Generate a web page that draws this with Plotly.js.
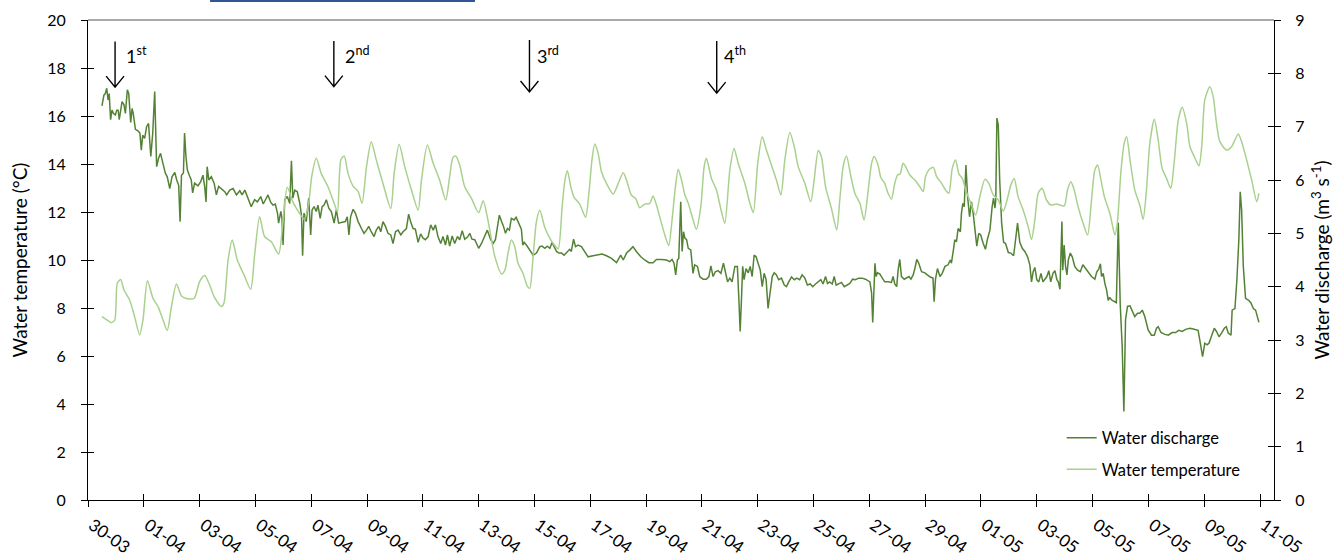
<!DOCTYPE html>
<html>
<head>
<meta charset="utf-8">
<script src="https://cdn.plot.ly/plotly-3.0.1.min.js"></script>
<style>html,body{margin:0;padding:0;background:#fff;}#chart{width:1338px;height:558px;}</style>
</head>
<body>
<div id="chart"></div>
<script>
// ---- data (x = days since 30-03 00:00) ----
const tickDays = [0,2,4,6,8,10,12,14,16,18,20,22,24,26,28,30,32,34,36,38,40,42];
const tickLabels = ['30-03','01-04','03-04','05-04','07-04','09-04','11-04','13-04','15-04','17-04','19-04','21-04','23-04','25-04','27-04','29-04','01-05','03-05','05-05','07-05','09-05','11-05'];

const tempDay = [0.50,0.72,0.84,0.96,1.05,1.17,1.29,1.49,1.67,1.85,1.97,2.13,2.33,2.51,2.69,2.84,2.99,3.17,3.35,3.52,3.80,4.00,4.18,4.36,4.52,4.78,4.87,5.02,5.17,5.35,5.59,5.83,5.97,6.15,6.33,6.57,6.83,6.99,7.14,7.35,7.55,7.75,7.90,8.02,8.18,8.36,8.60,8.84,8.94,9.06,9.18,9.32,9.50,9.68,9.82,9.98,10.15,10.33,10.57,10.85,10.97,11.15,11.35,11.59,11.83,11.95,12.16,12.37,12.60,12.82,12.96,13.08,13.18,13.32,13.50,13.74,14.00,14.16,14.33,14.58,14.82,14.94,15.05,15.17,15.29,15.41,15.59,15.75,15.83,15.95,16.07,16.19,16.37,16.55,16.73,16.85,16.99,17.09,17.18,17.30,17.42,17.62,17.83,17.95,18.06,18.16,18.28,18.40,18.58,18.82,19.00,19.18,19.30,19.47,19.62,19.77,19.95,20.13,20.25,20.37,20.55,20.69,20.81,20.93,21.05,21.15,21.27,21.39,21.51,21.65,21.80,21.96,22.08,22.16,22.34,22.52,22.70,22.82,23.00,23.15,23.30,23.54,23.72,23.84,24.00,24.16,24.31,24.49,24.67,24.83,24.97,25.15,25.31,25.45,25.69,25.90,26.02,26.17,26.28,26.43,26.64,26.83,26.94,27.06,27.18,27.34,27.48,27.66,27.81,27.96,28.08,28.17,28.31,28.41,28.55,28.67,28.79,28.91,29.01,29.10,29.21,29.33,29.45,29.63,29.81,29.93,30.01,30.13,30.29,30.41,30.59,30.77,30.85,30.97,31.09,31.21,31.33,31.45,31.64,31.81,31.96,32.14,32.28,32.44,32.62,32.80,32.95,33.07,33.19,33.33,33.51,33.69,33.81,33.93,34.05,34.19,34.35,34.50,34.71,34.98,35.10,35.22,35.34,35.48,35.66,35.82,35.96,36.08,36.18,36.30,36.42,36.62,36.80,36.89,37.01,37.13,37.22,37.34,37.51,37.69,37.81,37.93,38.05,38.21,38.35,38.49,38.65,38.80,38.92,39.07,39.21,39.37,39.49,39.67,39.81,39.91,40.02,40.20,40.32,40.44,40.56,40.80,40.98,41.10,41.22,41.34,41.52,41.70,41.88,41.96];
const tempC = [7.64,7.47,7.39,7.50,9.03,9.19,8.75,8.33,7.64,6.88,7.50,9.14,8.40,8.06,7.50,7.06,8.06,9.00,8.50,8.40,8.40,9.10,9.35,8.96,8.47,8.06,8.20,10.00,10.83,10.00,9.38,8.78,10.20,11.80,10.97,10.76,10.25,11.67,13.03,12.40,12.00,11.70,12.30,13.50,14.24,13.60,13.05,12.30,12.01,14.17,14.33,13.60,13.08,12.85,12.36,13.89,14.93,14.17,13.19,12.15,13.60,14.82,13.89,12.92,12.08,13.33,14.79,14.03,13.33,12.50,13.47,14.28,14.33,13.96,13.05,12.57,11.97,12.47,11.67,10.14,9.42,9.58,10.28,10.83,10.56,9.86,9.44,8.89,8.82,10.14,11.60,12.07,11.35,10.90,10.60,10.47,12.22,13.33,13.72,13.05,12.61,12.33,11.78,12.78,14.17,14.83,14.44,13.68,13.19,12.75,13.19,13.64,13.33,12.71,12.57,12.18,12.33,12.36,12.67,12.29,11.53,10.97,10.60,11.67,13.05,13.78,13.33,12.71,12.36,11.81,11.28,12.22,13.89,14.24,13.40,12.92,12.01,11.53,13.75,14.65,14.03,13.19,12.36,11.97,14.03,15.14,14.58,13.96,13.33,12.71,14.17,15.31,14.72,13.89,13.19,12.43,13.33,14.56,14.31,13.05,12.15,11.25,12.50,13.89,14.33,13.47,12.78,12.36,11.67,12.92,14.03,14.31,13.96,13.44,13.19,12.78,12.53,13.19,13.54,13.58,14.03,13.82,13.54,13.33,13.05,12.85,13.47,13.75,13.86,13.47,13.19,12.85,12.78,13.82,14.17,13.58,13.40,12.92,12.36,11.88,12.64,13.36,13.19,12.71,12.50,12.04,12.57,13.13,13.40,12.64,12.08,11.39,10.85,11.67,12.78,12.99,12.50,12.29,12.33,12.25,12.92,13.26,12.92,12.22,11.53,11.04,12.50,13.75,13.96,13.33,12.64,11.94,11.04,11.60,13.61,14.86,15.14,14.17,12.92,12.29,11.69,12.92,14.86,15.86,15.00,13.82,13.40,12.99,14.03,15.83,16.36,15.69,14.72,14.24,13.92,14.72,16.67,17.22,16.81,15.69,14.93,14.58,14.72,15.00,15.25,14.93,14.17,13.33,12.43,12.78];

const flowDay = [0.50,0.57,0.62,0.67,0.72,0.76,0.81,0.86,0.91,0.98,1.03,1.08,1.12,1.17,1.22,1.29,1.34,1.41,1.46,1.53,1.58,1.62,1.70,1.79,1.86,1.91,1.96,2.03,2.10,2.17,2.25,2.32,2.39,2.43,2.46,2.53,2.60,2.70,2.77,2.84,2.93,3.01,3.11,3.18,3.25,3.30,3.35,3.42,3.46,3.51,3.56,3.63,3.70,3.75,3.82,3.94,4.04,4.12,4.18,4.23,4.27,4.33,4.42,4.52,4.60,4.68,4.78,4.90,4.97,5.08,5.20,5.32,5.44,5.52,5.62,5.73,5.85,5.97,6.07,6.19,6.28,6.36,6.45,6.55,6.63,6.71,6.79,6.83,6.91,6.95,6.99,7.05,7.14,7.23,7.29,7.34,7.41,7.50,7.59,7.65,7.69,7.74,7.82,7.91,7.98,8.03,8.10,8.18,8.24,8.32,8.39,8.46,8.54,8.63,8.72,8.82,8.90,8.98,9.10,9.22,9.29,9.35,9.41,9.50,9.58,9.68,9.80,9.89,9.98,10.06,10.15,10.25,10.33,10.42,10.49,10.57,10.66,10.75,10.85,10.93,11.02,11.11,11.21,11.29,11.41,11.49,11.56,11.65,11.73,11.83,11.92,12.01,12.09,12.19,12.28,12.37,12.45,12.54,12.64,12.72,12.81,12.88,12.96,13.05,13.14,13.24,13.32,13.41,13.50,13.60,13.68,13.76,13.86,13.93,14.00,14.10,14.22,14.31,14.43,14.52,14.60,14.67,14.74,14.82,14.89,14.96,15.03,15.10,15.17,15.27,15.34,15.41,15.48,15.53,15.58,15.63,15.71,15.83,15.95,16.07,16.19,16.27,16.37,16.46,16.55,16.63,16.70,16.79,16.87,16.97,17.06,17.18,17.26,17.32,17.40,17.47,17.56,17.68,17.80,17.92,18.10,18.28,18.42,18.58,18.76,18.94,19.09,19.18,19.30,19.42,19.53,19.65,19.81,19.95,20.10,20.25,20.37,20.55,20.73,20.85,20.93,21.00,21.06,21.12,21.17,21.24,21.29,21.34,21.39,21.45,21.51,21.60,21.68,21.74,21.84,21.92,22.04,22.16,22.25,22.32,22.40,22.48,22.58,22.68,22.77,22.84,22.92,23.00,23.08,23.18,23.27,23.32,23.37,23.42,23.46,23.51,23.58,23.66,23.73,23.80,23.87,23.94,24.01,24.09,24.16,24.23,24.30,24.37,24.44,24.52,24.59,24.67,24.75,24.85,24.95,25.03,25.11,25.21,25.31,25.40,25.50,25.59,25.69,25.78,25.88,25.97,26.07,26.16,26.26,26.34,26.43,26.50,26.58,26.67,26.74,26.81,26.91,27.00,27.10,27.19,27.30,27.40,27.50,27.62,27.74,27.86,28.02,28.08,28.12,28.16,28.20,28.24,28.29,28.37,28.46,28.55,28.67,28.79,28.85,28.91,28.98,29.03,29.09,29.15,29.25,29.34,29.42,29.49,29.57,29.63,29.70,29.77,29.87,29.99,30.08,30.18,30.28,30.32,30.37,30.44,30.53,30.61,30.71,30.82,30.90,30.94,31.02,31.06,31.12,31.18,31.26,31.30,31.35,31.40,31.46,31.52,31.59,31.66,31.72,31.78,31.85,31.92,31.99,32.08,32.16,32.23,32.32,32.40,32.45,32.50,32.53,32.57,32.62,32.67,32.74,32.81,32.88,32.98,33.07,33.17,33.24,33.31,33.39,33.48,33.57,33.67,33.75,33.81,33.87,33.93,34.00,34.07,34.15,34.22,34.29,34.36,34.43,34.50,34.58,34.65,34.72,34.77,34.83,34.86,34.90,34.93,34.98,35.03,35.08,35.13,35.20,35.27,35.36,35.46,35.56,35.65,35.75,35.84,35.96,36.08,36.15,36.22,36.28,36.32,36.38,36.44,36.50,36.56,36.61,36.68,36.77,36.85,36.92,36.99,37.06,37.12,37.18,37.25,37.34,37.42,37.51,37.61,37.69,37.78,37.87,37.99,38.11,38.21,38.29,38.35,38.45,38.57,38.71,38.85,38.97,39.09,39.21,39.33,39.49,39.64,39.78,39.86,39.94,40.02,40.10,40.17,40.26,40.36,40.44,40.53,40.62,40.72,40.79,40.86,40.96,41.00,41.10,41.17,41.24,41.29,41.34,41.40,41.48,41.58,41.67,41.76,41.84,41.91,41.96];
const flowQ = [7.39,7.59,7.62,7.72,7.50,7.62,7.13,7.31,7.25,7.22,7.31,7.31,7.13,7.34,7.47,7.41,7.25,7.69,7.62,7.08,7.34,7.25,6.95,6.92,6.88,6.56,6.84,6.78,7.00,7.06,6.44,6.88,7.66,6.84,6.25,6.41,6.50,6.28,6.13,6.06,5.84,6.06,6.14,6.00,5.90,5.22,6.09,6.13,6.88,6.44,6.19,6.09,6.00,5.76,5.94,5.89,5.97,6.09,5.88,5.59,6.25,6.00,6.06,5.94,5.72,5.88,5.84,5.78,5.72,5.81,5.84,5.72,5.80,5.72,5.81,5.66,5.50,5.63,5.59,5.69,5.55,5.63,5.72,5.58,5.53,5.55,5.38,5.19,5.41,5.28,4.78,5.63,5.69,5.56,6.36,5.66,5.81,5.78,5.56,5.34,4.58,5.38,5.22,5.66,4.97,5.44,5.50,5.41,5.53,5.28,5.50,5.53,5.63,5.47,5.41,5.19,5.44,5.19,5.20,5.22,5.31,4.97,5.31,5.45,5.38,5.22,5.09,5.00,5.06,5.13,5.03,4.94,5.06,5.13,5.03,5.22,5.13,5.00,4.97,4.81,5.03,5.06,4.97,5.03,5.09,5.36,5.22,5.09,5.08,4.83,4.99,4.91,4.88,4.94,5.16,5.06,5.16,4.94,4.81,4.94,4.78,4.97,4.76,4.95,4.81,4.94,4.88,5.05,4.89,4.93,5.00,4.89,4.88,4.78,4.72,4.81,4.94,5.06,4.88,4.81,4.88,5.13,5.34,5.22,5.13,5.00,5.09,5.06,5.28,5.25,5.30,5.22,5.13,5.08,4.78,4.83,4.78,4.68,4.59,4.63,4.75,4.76,4.72,4.76,4.72,4.83,4.75,4.66,4.63,4.63,4.59,4.66,4.70,4.66,4.89,4.75,4.78,4.75,4.66,4.56,4.58,4.59,4.61,4.58,4.53,4.45,4.59,4.50,4.63,4.69,4.75,4.66,4.56,4.50,4.45,4.45,4.51,4.51,4.50,4.47,4.51,4.44,4.22,4.50,4.53,5.59,4.66,5.03,4.91,4.88,4.72,4.69,4.25,4.41,4.38,4.19,4.14,4.14,4.19,4.39,4.19,4.28,4.30,4.25,4.44,4.28,4.09,4.16,4.09,4.38,4.38,3.81,3.16,3.81,4.38,4.13,4.34,4.26,4.38,4.19,4.59,4.56,4.44,4.31,4.00,4.25,4.13,3.59,3.88,4.19,4.26,4.22,4.13,4.16,4.03,4.00,4.09,4.18,4.13,4.16,4.13,4.22,4.16,4.03,4.05,4.00,4.05,4.09,4.13,4.05,4.19,4.06,4.09,4.05,4.19,4.03,4.05,4.08,4.00,4.03,4.06,4.14,4.13,4.16,4.16,4.14,4.09,3.88,3.33,3.88,4.44,4.19,4.26,4.24,4.16,4.09,4.09,4.08,4.19,4.05,4.00,4.31,4.51,4.19,4.14,4.16,4.19,4.14,4.22,4.34,4.51,4.44,4.28,4.26,4.22,4.18,4.16,3.72,4.14,4.34,4.19,4.25,4.38,4.41,4.50,4.44,4.72,4.88,4.84,5.09,5.03,5.38,5.56,5.50,6.28,5.69,5.31,5.59,5.38,5.06,4.76,5.00,4.97,4.81,4.70,4.89,5.06,5.50,5.66,5.47,5.63,7.16,7.03,6.00,5.19,4.83,4.81,4.64,4.63,4.58,4.94,5.19,4.83,4.72,4.66,4.56,4.41,4.09,4.28,4.36,4.13,4.09,4.25,4.09,4.14,4.19,4.30,4.09,4.25,4.30,4.13,4.09,3.95,4.63,5.22,4.31,4.78,4.38,4.22,4.50,4.63,4.56,4.38,4.31,4.28,4.41,4.34,4.26,4.19,4.14,4.28,4.33,4.43,4.19,4.25,4.06,3.94,3.74,3.80,3.75,3.72,3.70,5.20,3.66,2.88,1.66,3.38,3.63,3.64,3.53,3.44,3.50,3.50,3.56,3.44,3.19,3.09,3.09,3.22,3.25,3.14,3.11,3.09,3.14,3.14,3.18,3.16,3.20,3.22,3.20,3.18,2.94,2.69,2.94,2.91,2.94,3.08,3.22,3.16,3.06,3.13,3.22,3.25,3.13,3.09,3.56,3.59,4.13,4.88,5.78,5.44,4.38,3.78,3.75,3.70,3.59,3.56,3.44,3.33];

// sampling campaigns (arrows)
const campaignLabels = ['1<sup>st</sup>','2<sup>nd</sup>','3<sup>rd</sup>','4<sup>th</sup>'];
const campaignDay = [0.97, 8.81, 15.82, 22.53];
const campaignTop = [19.10, 19.12, 19.17, 19.12];
const campaignTip = [17.20, 17.22, 17.00, 16.95];
const campaignTextDay = [1.28, 9.12, 16.02, 22.72];

const DARK = '#548235', LIGHT = '#a9d18e';
const FONT = 'Lato, "Open Sans", sans-serif';

const traces = [
  {type:'scatter', mode:'lines', name:'Water discharge', x:flowDay, y:flowQ, xaxis:'x', yaxis:'y',
   line:{color:DARK, width:1.5}, legendgroup:'a', hoverinfo:'skip'},
  {type:'scatter', mode:'lines', name:'Water temperature', x:tempDay, y:tempC, xaxis:'x', yaxis:'y2',
   line:{color:LIGHT, width:1.5, shape:'spline', smoothing:0.7}, legendgroup:'b', hoverinfo:'skip'},
  // invisible traces to host the inner half of the crossing tick marks
  {type:'scatter', mode:'lines', x:[null], y:[null], xaxis:'x2', yaxis:'y3', showlegend:false, hoverinfo:'skip'},
  {type:'scatter', mode:'lines', x:[null], y:[null], xaxis:'x', yaxis:'y4', showlegend:false, hoverinfo:'skip'}
];

const armX = 0.32, armY = 0.46;
const shapes = [];
campaignDay.forEach((d, i) => {
  shapes.push({type:'path', xref:'x', yref:'y2',
    path:`M${d},${campaignTop[i]} L${d},${campaignTip[i]} M${d-armX},${campaignTip[i]+armY} L${d},${campaignTip[i]} L${d+armX},${campaignTip[i]+armY}`,
    line:{color:'#000', width:1.4}});
});
// top border of plot area (grey)
shapes.push({type:'line', xref:'paper', yref:'paper', x0:0, x1:1, y0:1, y1:1, line:{color:'#8c8c8c', width:1.3}});
// blue rule at the very top edge
shapes.push({type:'line', xref:'paper', yref:'paper', x0:0.1029, x1:0.3263, y0:1.0396, y1:1.0396, line:{color:'#2f5597', width:2}});

const annotations = campaignLabels.map((t, i) => ({
  text:t, xref:'x', yref:'y2', x:campaignTextDay[i], y:18.55, xanchor:'left', yanchor:'middle',
  showarrow:false, font:{family:FONT, size:18, color:'#000'}
}));

const tickStyle = {ticks:'outside', ticklen:6, tickwidth:1, tickcolor:'#000', showline:true, linecolor:'#000', linewidth:1,
  showgrid:false, zeroline:false, tickfont:{family:FONT, size:16, color:'#000'}};

const layout = {
  width:1338, height:558,
  margin:{l:88, r:64, t:20, b:58, pad:0},
  paper_bgcolor:'#fff', plot_bgcolor:'#fff',
  font:{family:FONT, color:'#000'},
  showlegend:true,
  legend:{x:0.821, xanchor:'left', y:0.1654, yanchor:'top', bgcolor:'rgba(0,0,0,0)',
    font:{family:FONT, size:16.5, color:'#000'}, traceorder:'grouped', tracegroupgap:7},
  xaxis:Object.assign({}, tickStyle, {range:[0,42.5], tickmode:'array', tickvals:tickDays, ticktext:tickLabels,
    tickangle:35, anchor:'y', ticklabelshift:4, ticklabelstandoff:2, tickfont:{family:FONT, size:17, color:'#000'}}),
  xaxis2:{overlaying:'x', anchor:'y', side:'bottom', range:[0,42.5], tickmode:'array', tickvals:tickDays,
    ticks:'inside', ticklen:6, tickcolor:'#000', showticklabels:false, showline:false, showgrid:false, zeroline:false},
  yaxis:Object.assign({}, tickStyle, {side:'right', anchor:'x', range:[0,9], dtick:1, tick0:0,
    ticklabelstandoff:11,
    title:{text:'Water discharge (m<sup>3</sup> s<sup>-1</sup>)', font:{family:FONT, size:19, color:'#000'}, standoff:12}}),
  yaxis2:Object.assign({}, tickStyle, {overlaying:'y', side:'left', anchor:'x', range:[0,20], dtick:2, tick0:0,
    ticklabelstandoff:12,
    title:{text:'Water temperature (°C)', font:{family:FONT, size:19, color:'#000'}, standoff:14}}),
  yaxis3:{overlaying:'y', side:'left', anchor:'x', range:[0,20], dtick:2, tick0:0, ticks:'inside', ticklen:6,
    tickcolor:'#000', showticklabels:false, showline:false, showgrid:false, zeroline:false},
  yaxis4:{overlaying:'y', side:'right', anchor:'x', range:[0,9], dtick:1, tick0:0, ticks:'inside', ticklen:6,
    tickcolor:'#000', showticklabels:false, showline:false, showgrid:false, zeroline:false},
  shapes:shapes,
  annotations:annotations
};

Plotly.newPlot('chart', traces, layout, {staticPlot:true, displayModeBar:false});
</script>
</body>
</html>
